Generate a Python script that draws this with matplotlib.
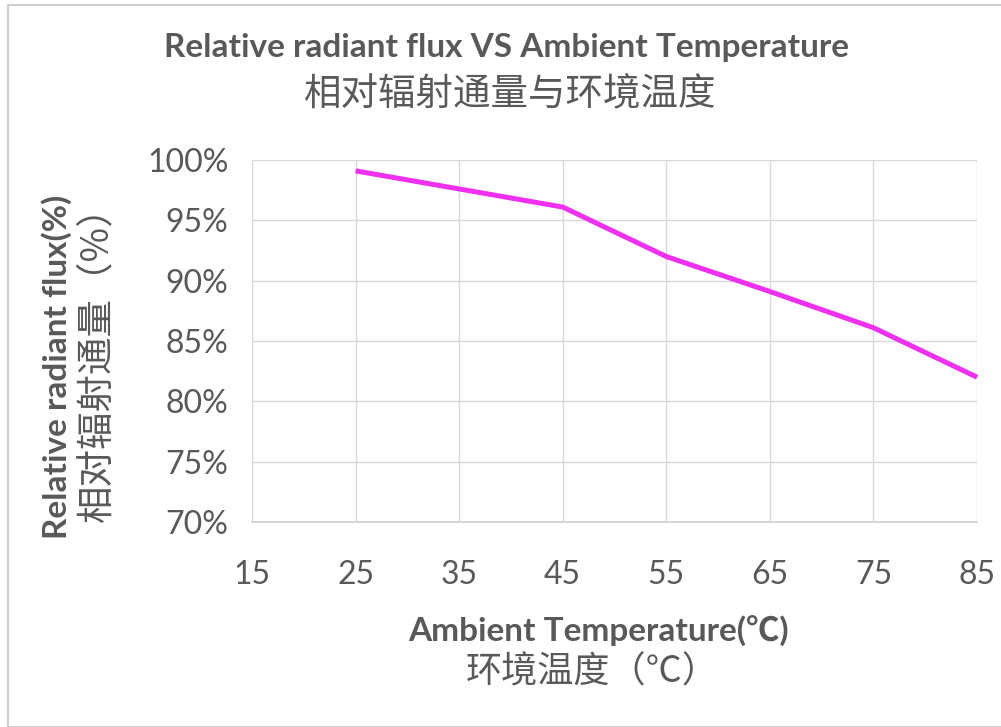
import matplotlib
matplotlib.use("Agg")
import matplotlib.pyplot as plt
from matplotlib.patches import Rectangle
from matplotlib.ticker import FuncFormatter

temps = [25, 35, 45, 55, 65, 75, 85]
flux = [99.1, 97.6, 96.1, 92.0, 89.1, 86.1, 82.0]
x_ticks = [15, 25, 35, 45, 55, 65, 75, 85]
y_ticks = [70, 75, 80, 85, 90, 95, 100]

title_en = "Relative radiant flux VS Ambient Temperature"
title_cn = "相对辐射通量与环境温度"
xlabel_en = "Ambient Temperature(℃)"
xlabel_cn = "环境温度（℃）"
ylabel_en = "Relative radiant flux(%)"
ylabel_cn = "相对辐射通量（%）"

txt = "#595959"
fam_en = ["Lato", "Noto Sans CJK SC", "DejaVu Sans"]
fam_cn = ["Noto Sans CJK SC", "DejaVu Sans"]

fig = plt.figure(figsize=(10.01, 7.27), dpi=100)
fig.patch.set_facecolor("white")
fig.add_artist(Rectangle((8 / 1001, 0.0), 1.0, 1 - 5 / 727, transform=fig.transFigure,
                         fill=False, edgecolor="#d0d0d0", linewidth=1.5))

ax = fig.add_axes([252 / 1001, 1 - 522 / 727, (977 - 252) / 1001, (522 - 160) / 727])
ax.plot(temps, flux, color="#f030f0", linewidth=3.6, solid_capstyle="butt", clip_on=False, zorder=3)
ax.set_xlim(15, 85)
ax.set_ylim(70, 100)
ax.set_xticks(x_ticks)
ax.set_yticks(y_ticks)
ax.yaxis.set_major_formatter(FuncFormatter(lambda v, p: f"{v:.0f}%"))
ax.grid(True, color="#d9d9d9", linewidth=1.0)
ax.set_axisbelow(True)
for s in ["top", "right", "left"]:
    ax.spines[s].set_visible(False)
ax.spines["bottom"].set_color("#d0d0d0")
ax.spines["bottom"].set_linewidth(1.2)
ax.tick_params(length=0, colors=txt, labelsize=23)
ax.tick_params(axis="y", pad=17)
ax.tick_params(axis="x", pad=27)
for lab in ax.get_xticklabels() + ax.get_yticklabels():
    lab.set_family(fam_en)

fig.text(507 / 1001, 1 - 47 / 727, title_en, ha="center", va="center", fontsize=24,
         fontweight="bold", color=txt, family=fam_en)
fig.text(510 / 1001, 1 - 95 / 727, title_cn, ha="center", va="center", fontsize=27,
         color=txt, family=fam_cn)
fig.text(599 / 1001, 1 - 630 / 727, xlabel_en, ha="center", va="center", fontsize=24,
         fontweight="bold", color=txt, family=fam_en)
fig.text(592 / 1001, 1 - 672 / 727, xlabel_cn, ha="center", va="center", fontsize=26,
         color=txt, family=fam_cn)
fig.text(57 / 1001, 1 - 367 / 727, ylabel_en, ha="center", va="center", fontsize=24,
         fontweight="bold", color=txt, family=fam_en, rotation=90)
fig.text(97 / 1001, 1 - 355 / 727, ylabel_cn, ha="center", va="center", fontsize=27,
         color=txt, family=fam_cn, rotation=90)

fig.savefig("out.png", dpi=100)
